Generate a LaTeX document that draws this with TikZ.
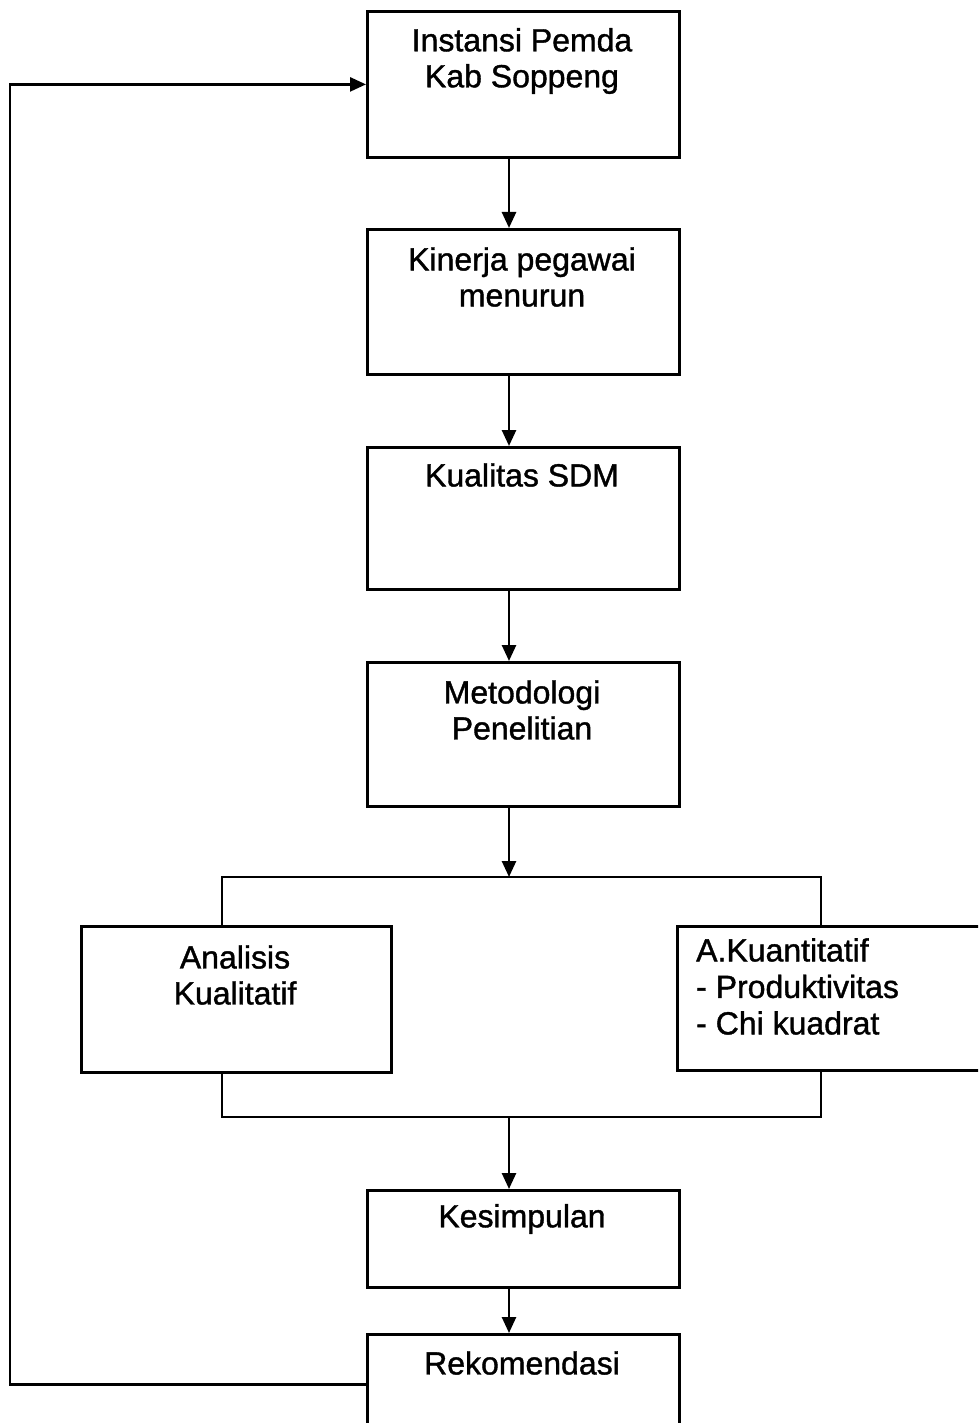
\documentclass[tikz,border=0pt]{standalone}
\usepackage{fontspec}
\setmainfont{Liberation Sans}[BoldFeatures={FakeBold=1.2},BoldFont={Liberation Sans}]
\usetikzlibrary{arrows.meta}
\begin{document}
\begin{tikzpicture}[x=1pt,y=-1pt,
  box/.style={draw,line width=2.8pt,anchor=north west,inner sep=0pt},
  txt/.style={font=\fontsize{32}{36}\selectfont\bfseries,align=center,inner sep=0pt},
  lft/.style={font=\fontsize{32}{36.5}\selectfont\bfseries,align=left,inner sep=0pt,anchor=north west},
  conn/.style={line width=2.6pt},
  arr/.style={line width=2.6pt,-{Triangle[length=16pt,width=14pt]}}]
\clip (0,0) rectangle (978,1423);
% boxes
\node[box,minimum width=312pt,minimum height=146pt] (b1) at (366,10) {};
\node[box,minimum width=312pt,minimum height=145pt] (b2) at (366,228) {};
\node[box,minimum width=312pt,minimum height=142pt] (b3) at (366,446) {};
\node[box,minimum width=312pt,minimum height=144pt] (b4) at (366,661) {};
\node[box,minimum width=310pt,minimum height=146pt] (bl) at (80,925) {};
\node[box,minimum width=330pt,minimum height=144pt] (br) at (676,925) {};
\node[box,minimum width=312pt,minimum height=97pt] (b5) at (366,1189) {};
\node[box,minimum width=312pt,minimum height=100pt] (b6) at (366,1333) {};
% texts
\node[txt] (t1) at (522,61) {Instansi Pemda\\Kab Soppeng};
\node[txt] (t2) at (522,277) {Kinerja pegawai\\menurun};
\node[txt] (t3) at (522,475) {Kualitas SDM};
\node[txt] (t4) at (522,710) {Metodologi\\Penelitian};
\node[txt] (tl) at (235,975) {Analisis\\Kualitatif};
\node[lft] (tr) at (696,938) {A.Kuantitatif\\- Produktivitas\\- Chi kuadrat};
\node[txt] (t5) at (522,1219) {Kesimpulan};
\node[txt] (t6) at (522,1363) {Rekomendasi};
% helper coordinates
\coordinate (ax) at (509,0);
\coordinate (sl) at (222,877);
\coordinate (sr) at (821,877);
\coordinate (jl) at (222,1117);
\coordinate (jr) at (821,1117);
\coordinate (fb) at (10,0);
% connectors
\draw[arr] (b1.south -| ax) -- (b2.north -| ax);
\draw[arr] (b2.south -| ax) -- (b3.north -| ax);
\draw[arr] (b3.south -| ax) -- (b4.north -| ax);
\draw[arr] (b4.south -| ax) -- (ax |- sl);
\draw[conn] (bl.north -| sl) -- (sl) -- (sr) -- (br.north -| sr);
\draw[conn] (bl.south -| jl) -- (jl) -- (jr) -- (br.south -| jr);
\draw[arr] (ax |- jl) -- (b5.north -| ax);
\draw[arr] (b5.south -| ax) -- (b6.north -| ax);
\draw[arr] (b6.west) -- (b6.west -| fb) -- (fb |- b1.west) -- (b1.west);
\end{tikzpicture}
\end{document}
